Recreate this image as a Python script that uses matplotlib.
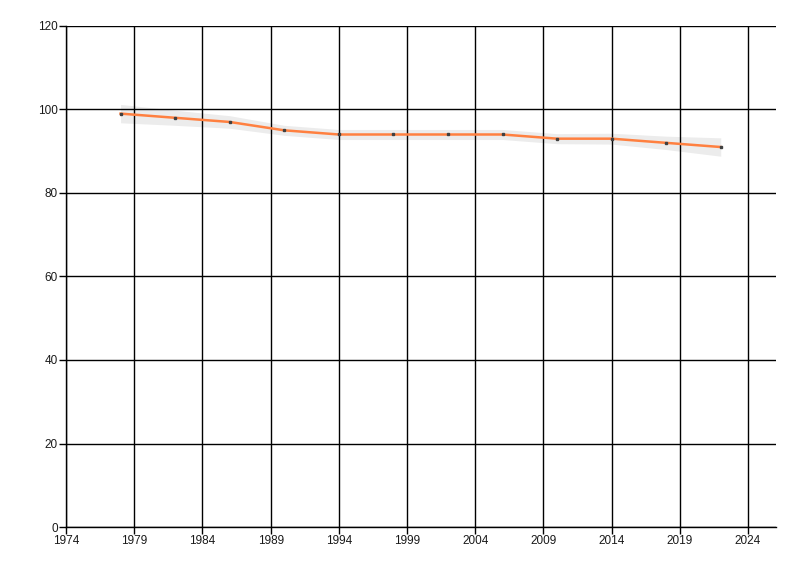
import matplotlib
matplotlib.use("Agg")
import matplotlib.pyplot as plt
import numpy as np

# values
years = [1978, 1982, 1986, 1990, 1994, 1998, 2002, 2006, 2010, 2014, 2018, 2022]
values = [99, 98, 97, 95, 94, 94, 94, 94, 93, 93, 92, 91]
band_lower = [96.8, 96.2, 95.5, 93.8, 92.8, 92.8, 92.8, 92.8, 91.8, 91.7, 90.4, 88.8]
band_upper = [101.2, 99.8, 98.5, 96.2, 95.2, 95.2, 95.2, 95.2, 94.2, 94.3, 93.6, 93.2]

x_ticks = [1974, 1979, 1984, 1989, 1994, 1999, 2004, 2009, 2014, 2019, 2024]
y_ticks = [0, 20, 40, 60, 80, 100, 120]

fig = plt.figure(figsize=(8, 5.76), dpi=100)
ax = fig.add_axes([0.0825, 0.085, 0.8875, 0.87])

ax.fill_between(years, band_lower, band_upper, color="#ececec", lw=0, zorder=0.4)
ax.plot(years, values, color="#ff8040", lw=1.8, zorder=2)
ax.plot(years, values, ls="none", marker="s", ms=1.8, color="#404040", zorder=3)

ax.set_xlim(1974, 2026.05)
ax.set_ylim(0, 120)
ax.set_xticks(x_ticks)
ax.set_yticks(y_ticks)
ax.set_axisbelow(True)
ax.grid(True, color="black", lw=1)

for side in ["top", "right"]:
    ax.spines[side].set_visible(False)
for side in ["left", "bottom"]:
    ax.spines[side].set_color("black")
    ax.spines[side].set_linewidth(1)

ax.tick_params(axis="both", direction="out", length=5, width=1, color="black",
               labelsize=8.5, labelcolor="#1a1a1a", pad=1)
for lab in ax.get_xticklabels() + ax.get_yticklabels():
    lab.set_family("Liberation Sans")

fig.savefig("out.png", dpi=100)
